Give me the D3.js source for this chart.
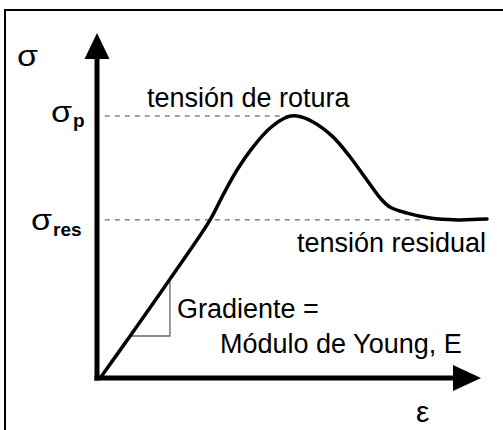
<!DOCTYPE html>
<html>
<head>
<meta charset="utf-8">
<script src="https://cdn.jsdelivr.net/npm/d3@7"></script>
<style>
  html, body { margin: 0; padding: 0; background: #fff; }
  svg text { font-family: "Liberation Sans", Arial, sans-serif; fill: #000; }
</style>
</head>
<body>
<svg id="chart" width="503" height="430"></svg>
<script>
// strain (ε) and stress (σ) readings along the curve, arbitrary units 0..100
const strain = [1, 8.5, 18.7, 29, 32.3, 35.9, 40, 44.4, 48.7, 51.3, 55.4, 60.5, 64.9, 69.2, 72.6, 75.1, 79.5, 85.4, 92.3, 100];
const stress = [0, 15.7, 37.5, 60.2, 69.7, 79.3, 88.1, 95.4, 99.6, 100, 97.7, 92, 84.3, 75.5, 68.6, 65.1, 62.8, 60.9, 60.2, 60.5];

const peakStress = 100;
const residualStress = 60.2;
// gradient triangle on the elastic part
const gradStrain = [8.5, 18.7];
const gradStress = [15.7, 37.5];

const svg = d3.select("#chart");
const x = d3.scaleLinear().domain([0, 100]).range([97, 487]);
const y = d3.scaleLinear().domain([0, 100]).range([377, 116]);

// frame
svg.append("rect")
  .attr("x", 5).attr("y", 10)
  .attr("width", 510).attr("height", 440)
  .attr("fill", "none").attr("stroke", "#000").attr("stroke-width", 2);

// reference dashed lines
svg.append("line")
  .attr("x1", x(2)).attr("x2", x(50))
  .attr("y1", y(peakStress)).attr("y2", y(peakStress))
  .attr("stroke", "#444").attr("stroke-width", 1).attr("stroke-dasharray", "5,5");
svg.append("line")
  .attr("x1", x(2)).attr("x2", x(84))
  .attr("y1", y(residualStress)).attr("y2", y(residualStress))
  .attr("stroke", "#444").attr("stroke-width", 1).attr("stroke-dasharray", "5,5");

// gradient triangle
svg.append("path")
  .attr("d", `M${x(gradStrain[0])},${y(gradStress[0])}H${x(gradStrain[1])}V${y(gradStress[1])}`)
  .attr("fill", "none").attr("stroke", "#666").attr("stroke-width", 1.3);

// axes
const axisY = y(0) + 1;
svg.append("line")
  .attr("x1", x(0)).attr("x2", x(0))
  .attr("y1", axisY + 2.5).attr("y2", 58)
  .attr("stroke", "#000").attr("stroke-width", 5);
svg.append("path")
  .attr("d", `M${x(0)},33L${x(0) - 12.5},59L${x(0) + 12.5},59Z`)
  .attr("fill", "#000");
svg.append("line")
  .attr("x1", x(0) - 2.5).attr("x2", 454)
  .attr("y1", axisY).attr("y2", axisY)
  .attr("stroke", "#000").attr("stroke-width", 5);
svg.append("path")
  .attr("d", `M481,${axisY}L453,${axisY - 13}L453,${axisY + 13}Z`)
  .attr("fill", "#000");

// curve
const line = d3.line()
  .x((d, i) => x(strain[i]))
  .y((d, i) => y(stress[i]))
  .curve(d3.curveCatmullRom.alpha(0.5));
svg.append("path")
  .attr("d", line(strain))
  .attr("fill", "none").attr("stroke", "#000").attr("stroke-width", 3.5)
  .attr("stroke-linejoin", "round").attr("stroke-linecap", "round");

// labels
function sigma(px, py) {
  svg.append("text").attr("x", px).attr("y", py).attr("font-size", 30)
    .attr("textLength", 21).attr("lengthAdjust", "spacingAndGlyphs").text("σ");
}
sigma(17, 66);
sigma(51, 122);
sigma(31, 230);
svg.append("text").attr("x", 73).attr("y", 127).attr("font-size", 19)
  .attr("font-weight", "bold").text("p");
svg.append("text").attr("x", 53).attr("y", 236).attr("font-size", 19)
  .attr("font-weight", "bold").text("res");

svg.append("text").attr("x", 416).attr("y", 422).attr("font-size", 30).text("ε");

const fs = 27;
svg.append("text").attr("x", 147).attr("y", 107).attr("font-size", fs).text("tensión de rotura");
svg.append("text").attr("x", 297).attr("y", 252).attr("font-size", fs).text("tensión residual");
svg.append("text").attr("x", 177).attr("y", 318).attr("font-size", fs).text("Gradiente =");
svg.append("text").attr("x", 220).attr("y", 353).attr("font-size", fs).text("Módulo de Young, E");
</script>
</body>
</html>
